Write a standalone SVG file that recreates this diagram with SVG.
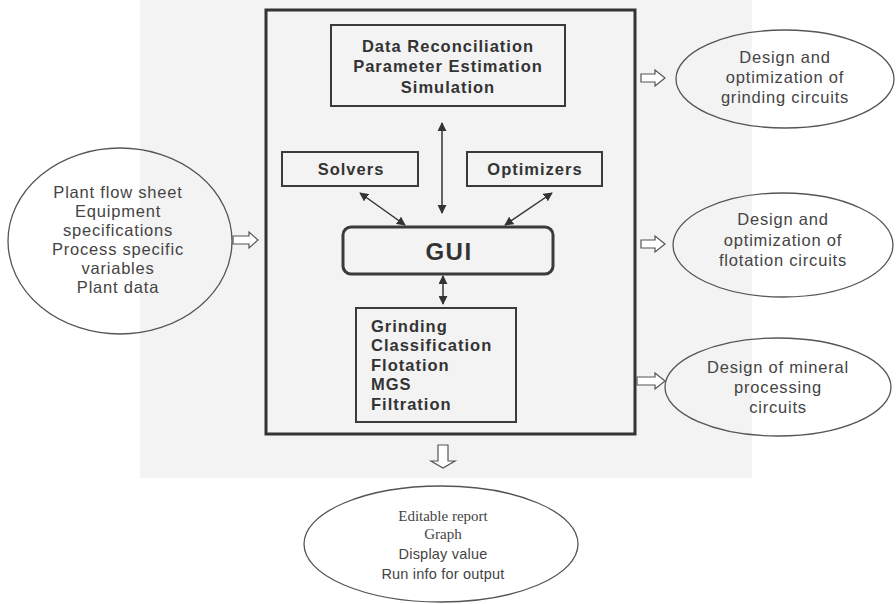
<svg xmlns="http://www.w3.org/2000/svg" width="896" height="604" viewBox="0 0 896 604">
<defs>
<marker id="ah" viewBox="0 0 10 10" refX="9" refY="5" markerWidth="9" markerHeight="9" markerUnits="userSpaceOnUse" orient="auto-start-reverse">
<path d="M0,0 L10,5 L0,10 z" fill="#333"/>
</marker>
<style>
.box{fill:none;stroke:#3a3a3a;stroke-width:2}
.b{font-family:"Liberation Sans",Arial,sans-serif;font-weight:bold;font-size:16.5px;fill:#333;letter-spacing:1px}
.r{font-family:"Liberation Sans",Arial,sans-serif;font-size:16.5px;fill:#444;letter-spacing:0.8px;text-anchor:middle}
.r2{font-family:"Liberation Sans",Arial,sans-serif;font-size:14.5px;fill:#444;letter-spacing:0.2px;text-anchor:middle}
.s{font-family:"Liberation Serif","Times New Roman",serif;font-size:15px;fill:#444;text-anchor:middle}
.ell{fill:none;stroke:#555;stroke-width:1.3}
.blk{fill:#fff;stroke:#555;stroke-width:1.2}
.con{stroke:#333;stroke-width:1.5;fill:none;marker-start:url(#ah);marker-end:url(#ah)}
</style>
</defs>
<rect x="140" y="0" width="612" height="478" fill="#f3f3f3"/>

<g id="main">
<rect x="266" y="10" width="369" height="424" fill="none" stroke="#333" stroke-width="3"/>
</g>

<g id="dr">
<rect class="box" x="331" y="25" width="234" height="81"/>
<text class="b" x="448" y="52" text-anchor="middle">Data Reconciliation</text>
<text class="b" x="448" y="72" text-anchor="middle">Parameter Estimation</text>
<text class="b" x="448" y="93" text-anchor="middle">Simulation</text>
</g>

<g id="solvers">
<rect class="box" x="282" y="152" width="136" height="34"/>
<text class="b" x="351" y="175" text-anchor="middle">Solvers</text>
</g>

<g id="optimizers">
<rect class="box" x="467" y="152" width="135" height="34"/>
<text class="b" x="535" y="175" text-anchor="middle">Optimizers</text>
</g>

<g id="gui">
<rect x="343" y="227" width="210" height="47" rx="8" fill="none" stroke="#3a3a3a" stroke-width="3"/>
<text class="b" x="449" y="260" text-anchor="middle" style="font-size:24px;letter-spacing:1.5px">GUI</text>
</g>

<g id="models">
<rect class="box" x="356" y="308" width="160" height="114"/>
<text class="b" x="371" y="332">Grinding</text>
<text class="b" x="371" y="351">Classification</text>
<text class="b" x="371" y="371">Flotation</text>
<text class="b" x="371" y="390">MGS</text>
<text class="b" x="371" y="410">Filtration</text>
</g>

<g id="inputs">
<ellipse class="ell" cx="120" cy="241" rx="112" ry="93"/>
<text class="r" x="118" y="198">Plant flow sheet</text>
<text class="r" x="118" y="217">Equipment</text>
<text class="r" x="118" y="236">specifications</text>
<text class="r" x="118" y="255">Process specific</text>
<text class="r" x="118" y="274">variables</text>
<text class="r" x="118" y="293">Plant data</text>
</g>

<g id="out-grinding">
<ellipse class="ell" cx="785" cy="79" rx="109" ry="49"/>
<text class="r" x="785" y="63">Design and</text>
<text class="r" x="785" y="83">optimization of</text>
<text class="r" x="785" y="103">grinding circuits</text>
</g>

<g id="out-flotation">
<ellipse class="ell" cx="783" cy="245" rx="110" ry="52"/>
<text class="r" x="783" y="225">Design and</text>
<text class="r" x="783" y="246">optimization of</text>
<text class="r" x="783" y="266">flotation circuits</text>
</g>

<g id="out-mineral">
<ellipse class="ell" cx="778" cy="387" rx="113" ry="49"/>
<text class="r" x="778" y="373">Design of mineral</text>
<text class="r" x="778" y="393">processing</text>
<text class="r" x="778" y="413">circuits</text>
</g>

<g id="report">
<ellipse class="ell" cx="441" cy="544" rx="137" ry="58"/>
<text class="s" x="443" y="521">Editable report</text>
<text class="s" x="443" y="539">Graph</text>
<text class="r2" x="443" y="559">Display value</text>
<text class="r2" x="443" y="579">Run info for output</text>
</g>

<g id="connectors">
<line class="con" x1="442" y1="123" x2="442" y2="213"/>
<line class="con" x1="360" y1="193" x2="405" y2="225"/>
<line class="con" x1="552" y1="193" x2="505" y2="225"/>
<line class="con" x1="443" y1="276" x2="443" y2="304"/>
<polygon class="blk" points="233,236 249,236 249,232 258,240 249,248 249,244 233,244"/>
<polygon class="blk" points="641,74 655,74 655,70 665,78 655,86 655,82 641,82"/>
<polygon class="blk" points="641,240 655,240 655,236 665,244 655,252 655,248 641,248"/>
<polygon class="blk" points="637,377 655,377 655,373 665,381 655,389 655,385 637,385"/>
<polygon class="blk" points="438,445 448,445 448,461 455,461 443,468 431,461 438,461"/>
</g>
</svg>
